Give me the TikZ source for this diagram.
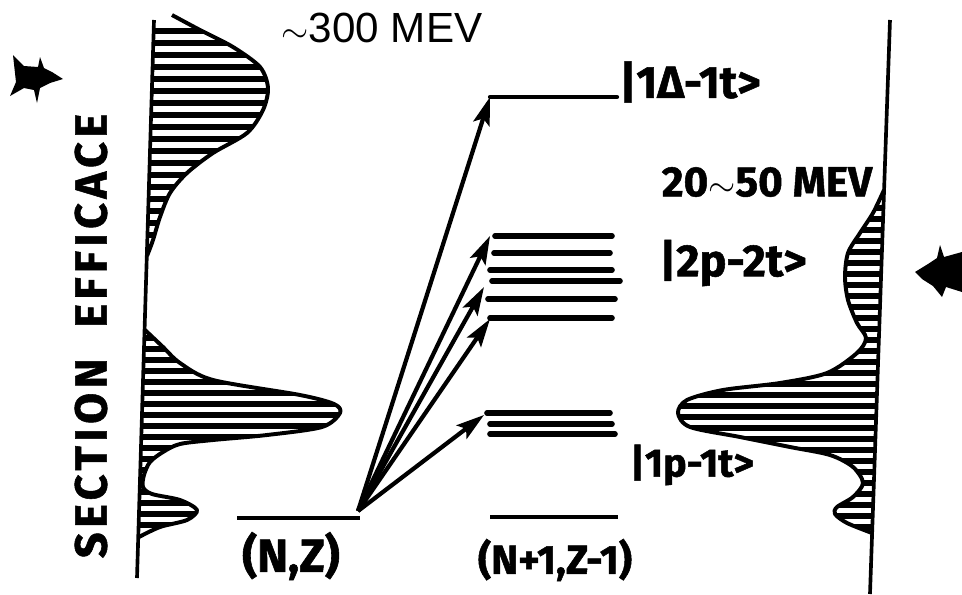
\documentclass[tikz,border=0pt]{standalone}
\usepackage{fontspec}
\setmainfont{Fira Sans}[BoldFeatures={FakeBold=1.2}]
\newfontfamily\thinfont{Liberation Sans}
\newfontfamily\spacedfont[LetterSpace=10,BoldFeatures={FakeBold=1.2}]{Fira Sans}
\usetikzlibrary{arrows.meta}
\tikzset{
  axisline/.style={line width=2.6pt},
  curve/.style={line width=2.8pt, line join=round},
  hatch/.style={line width=3.6pt},
  level/.style={line width=4pt, line cap=round},
  ground/.style={line width=3.2pt},
  transition/.style={line width=3pt, -{Stealth[length=20pt,width=12pt,inset=4pt]}},
  ket/.style={inner sep=0pt, font=\bfseries\fontsize{32}{34}\selectfont},
}
\begin{document}
\begin{tikzpicture}[x=0.025cm,y=-0.025cm]
\useasboundingbox (0,0) rectangle (962,594);
% axes
\draw[axisline] (154,20) -- (137,578);
\draw[axisline] (890,20) -- (870,594);
% left spectrum
\path[save path=\deltapeak] (154,24) -- plot[smooth] coordinates {(172,15) (200,30) (233,47) (260,67) (268,88) (263,110) (247,133) (213,153) (187,173) (170,193) (160,217) (153,240) (147,256)} -- cycle;
\path[save path=\ppeak] (145,328) -- plot[smooth] coordinates {(145,330) (163,347) (180,363) (213,380) (300,395) (334,404) (340,413) (322,427) (267,435) (213,440) (180,444) (163,452) (150,462) (144,475) (143,487) (152,494) (180,500) (197,510) (187,520) (160,527) (139,537)} -- cycle;
\begin{scope}
\clip[use path=\deltapeak];
\foreach \y in {31,43,...,250} \draw[hatch] (140,\y) -- (280,\y);
\end{scope}
\begin{scope}
\clip[use path=\ppeak];
\foreach \y in {338,349,...,535} \draw[hatch] (130,\y) -- (345,\y);
\end{scope}
\draw[curve] plot[smooth] coordinates {(172,15) (200,30) (233,47) (260,67) (268,88) (263,110) (247,133) (213,153) (187,173) (170,193) (160,217) (153,240) (147,256)};
\draw[curve] plot[smooth] coordinates {(145,330) (163,347) (180,363) (213,380) (300,395) (334,404) (340,413) (322,427) (267,435) (213,440) (180,444) (163,452) (150,462) (144,475) (143,487) (152,494) (180,500) (197,510) (187,520) (160,527) (139,537)};
% right spectrum
\path[save path=\rpeak] (884,190) -- plot[smooth] coordinates {(884,190) (873,213) (860,233) (848,253) (845,277) (848,300) (857,323) (866,338) (857,353) (827,373) (780,383) (723,390) (687,400) (678,413) (690,427) (740,437) (790,447) (830,455) (853,467) (863,483) (853,497) (837,507) (835,514) (847,523) (872,533)} -- cycle;
\begin{scope}
\clip[use path=\rpeak];
\foreach \y in {197,208,...,532} \draw[hatch] (670,\y) -- (895,\y);
\end{scope}
\draw[curve] plot[smooth] coordinates {(884,190) (873,213) (860,233) (848,253) (845,277) (848,300) (857,323) (866,338) (857,353) (827,373) (780,383) (723,390) (687,400) (678,413) (690,427) (740,437) (790,447) (830,455) (853,467) (863,483) (853,497) (837,507) (835,514) (847,523) (872,533)};
% beam arrows
\fill (13,55) -- (24,66) -- (38,67) -- (40,57) -- (44,68) -- (52,72) -- (63,79) -- (50,83) -- (40,88) -- (37,103) -- (34,90) -- (24,88) -- (10,96) -- (16,82) -- cycle;
\fill (915,272) -- (928,264) -- (937,258) -- (940,245) -- (944,257) -- (962,252) -- (962,292) -- (946,287) -- (942,297) -- (933,286) -- (922,279) -- cycle;
% levels
\coordinate (gsL) at (237,518);
\coordinate (gs) at (360,518);
\coordinate (resL) at (490,517);
\coordinate (resR) at (618,517);
\draw[ground] (gsL) -- (gs);
\draw[ground] (resL) -- (resR);
\coordinate (dL) at (490,97);
\coordinate (dR) at (617,97);
\draw[level, line width=3pt] (dL) -- (dR);
\foreach \y/\xa/\xb in {236/495/612, 253/494/610, 270/490/612, 281/492/620, 299/488/615, 318/490/612}
  \draw[level] (\xa,\y) -- (\xb,\y);
\foreach \y/\xa/\xb in {413/487/610, 424/490/612, 434/490/615}
  \draw[level] (\xa,\y) -- (\xb,\y);
% transitions
\coordinate (src) at (358,511);
\coordinate (tpa) at (490,236);
\coordinate (tpb) at (484,287);
\coordinate (tpc) at (490,319);
\coordinate (ph) at (484,415);
\foreach \t in {dL,tpa,tpb,tpc,ph}
  \draw[transition] (src) -- (\t);
% labels
\node[ket] (kD) at (690,82) {|1Δ-1t>};
\node[ket] (kpp) at (733,263) {|2p-2t>};
\node[ket, font=\bfseries\fontsize{28}{30}\selectfont] (kp) at (692,465) {|1p-1t>};
\node[ket, font=\bfseries\fontsize{30}{32}\selectfont] (wid) at (767,182) {20$\sim$50 MEV};
\node[inner sep=0pt, font=\thinfont\fontsize{30}{32}\selectfont] (emax) at (382,28) {$\sim$300 MEV};
\node[ket, font=\bfseries\fontsize{33}{35}\selectfont] (nz) at (291,556) {(N,Z)};
\node[ket, font=\bfseries\fontsize{29}{31}\selectfont] (nz1) at (555,560) {(N+1,Z-1)};
\node[inner sep=0pt, rotate=90, font=\spacedfont\bfseries\fontsize{32}{34}\selectfont] (ylab) at (91,336) {SECTION\hspace{22pt}EFFICACE};
\end{tikzpicture}
\end{document}
